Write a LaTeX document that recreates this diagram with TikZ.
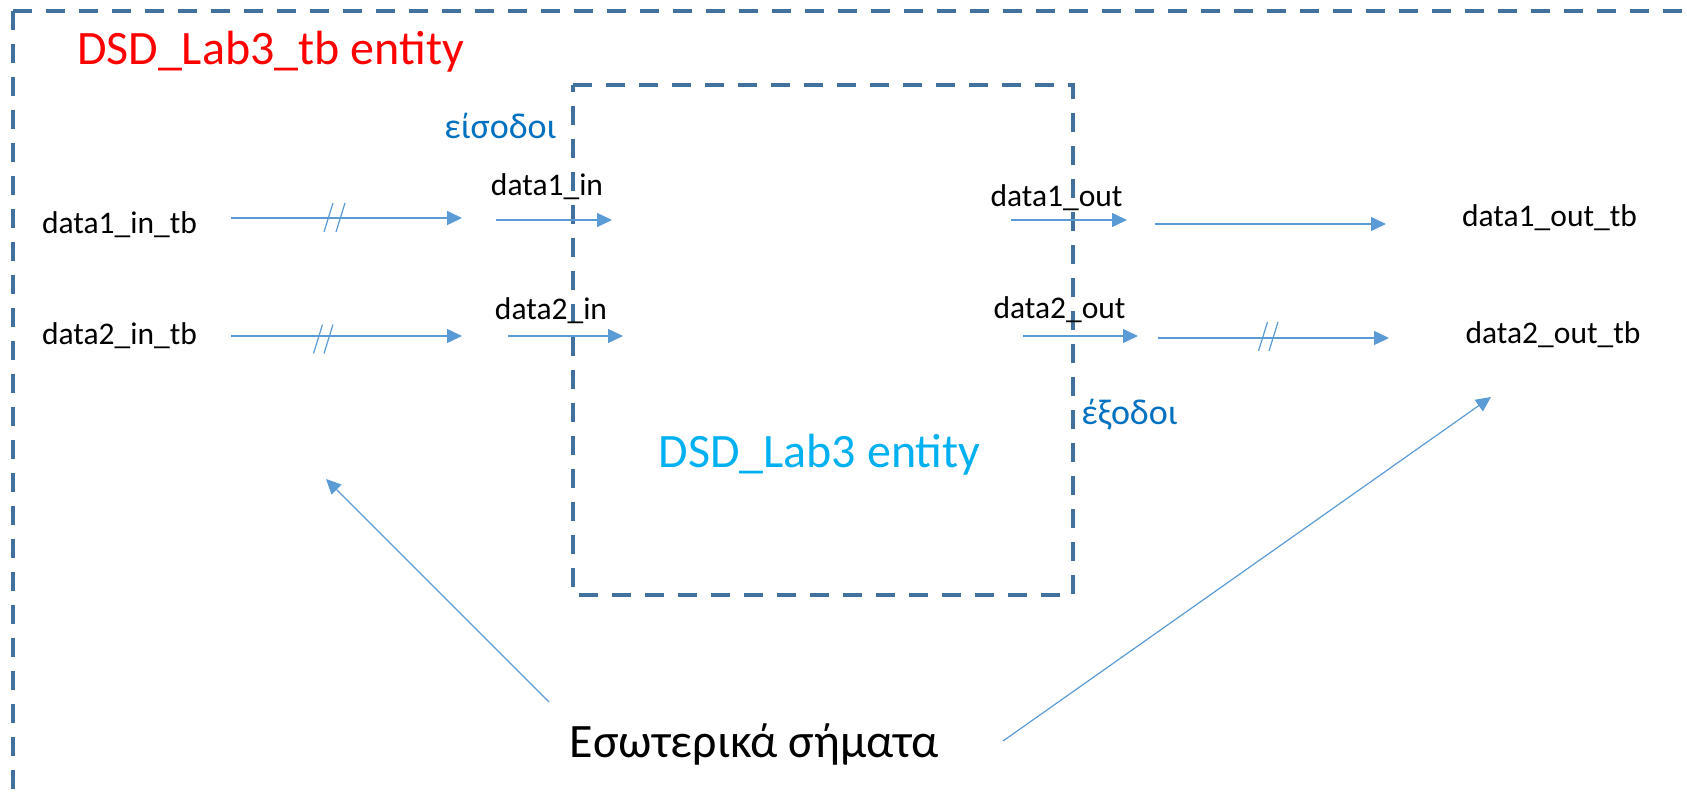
\documentclass[tikz,border=0pt]{standalone}
\usepackage{fontspec}
\setmainfont{Carlito}
\usetikzlibrary{arrows.meta}
\definecolor{boxblue}{RGB}{65,113,156}
\definecolor{arrowblue}{RGB}{91,155,213}
\definecolor{labelblue}{RGB}{0,112,192}
\definecolor{cyanblue}{RGB}{0,176,240}
\begin{document}
\begin{tikzpicture}[x=1pt,y=-1pt,
  boxline/.style={draw=boxblue, line width=4pt, dash pattern=on 19pt off 14pt},
  sig/.style={draw=arrowblue, line width=1.5pt, -{Triangle[length=15pt,width=14pt]}},
  pointer/.style={draw=arrowblue, line width=1.2pt, -{Triangle[length=15pt,width=14pt]}},
  tick/.style={draw=arrowblue, line width=1.2pt},
  lbl/.style={anchor=base, inner sep=0pt, font=\fontsize{31.5}{36}\selectfont},
  big/.style={anchor=base, inner sep=0pt, font=\fontsize{48}{56}\selectfont},
  greek/.style={anchor=base, inner sep=0pt, text=labelblue, font=\fontsize{36}{42}\selectfont}]
\useasboundingbox (0,0) rectangle (1687,792);
\clip (0,0) rectangle (1687,792);
% outer box
\coordinate (otl) at (12.7,11);
\coordinate (otr) at (1700,11);
\coordinate (obl) at (12.7,793.5);
\coordinate (obr) at (1700,793.5);
\draw[boxline] (otl) -- (otr);
\draw[boxline] (otl) -- (obl);
\draw[boxline] (obl) -- (obr);
% inner box
\coordinate (itl) at (573,85);
\coordinate (itr) at (1073,85);
\coordinate (ibr) at (1073,595);
\coordinate (ibl) at (573,595);
\draw[boxline] (itl) -- (itr) -- (ibr) -- (ibl) -- cycle;
% titles
\node[big, text=red] (tbtitle) at (270.5,65) {DSD\_Lab3\_tb entity};
\node[big, text=cyanblue] (enttitle) at (819.5,467) {DSD\_Lab3 entity};
\node[big] (internal) at (754.5,757) {Εσωτερικά σήματα};
\node[greek] (inputs) at (500.5,138) {είσοδοι};
\node[greek] (outputs) at (1129.5,424) {έξοδοι};
% labels
\node[lbl] (d1intb) at (119.5,233) {data1\_in\_tb};
\node[lbl] (d2intb) at (119.5,344) {data2\_in\_tb};
\node[lbl] (d1in) at (547,195) {data1\_in};
\node[lbl] (d2in) at (551,319) {data2\_in};
\node[lbl] (d1out) at (1056.5,206) {data1\_out};
\node[lbl] (d2out) at (1059.5,318) {data2\_out};
\node[lbl] (d1outtb) at (1549.5,226) {data1\_out\_tb};
\node[lbl] (d2outtb) at (1553,343) {data2\_out\_tb};
% arrow end points
\coordinate (a1s) at (231,218);  \coordinate (a1e) at (462,218);
\coordinate (a2s) at (496,220);  \coordinate (a2e) at (612,220);
\coordinate (a3s) at (231,336);  \coordinate (a3e) at (462,336);
\coordinate (a4s) at (508,336);  \coordinate (a4e) at (623,336);
\coordinate (a5s) at (1011,220); \coordinate (a5e) at (1127,220);
\coordinate (a6s) at (1155,224); \coordinate (a6e) at (1386,224);
\coordinate (a7s) at (1023,336); \coordinate (a7e) at (1138,336);
\coordinate (a8s) at (1158,338); \coordinate (a8e) at (1389,338);
\coordinate (p1s) at (549,702);  \coordinate (p1e) at (326,479);
\coordinate (p2s) at (1003,741); \coordinate (p2e) at (1491,397);
\draw[sig] (a1s) -- (a1e);
\draw[sig] (a2s) -- (a2e);
\draw[sig] (a3s) -- (a3e);
\draw[sig] (a4s) -- (a4e);
\draw[sig] (a5s) -- (a5e);
\draw[sig] (a6s) -- (a6e);
\draw[sig] (a7s) -- (a7e);
\draw[sig] (a8s) -- (a8e);
\draw[pointer] (p1s) -- (p1e);
\draw[pointer] (p2s) -- (p2e);
% bus ticks
\foreach \cx/\cy in {328.5/217.5, 340.5/217.5, 318/339, 328.5/339, 1263/336.5, 1273.5/336.5}
  \draw[tick] (\cx-4.5,\cy+14.5) -- (\cx+4.5,\cy-14.5);
\end{tikzpicture}
\end{document}
